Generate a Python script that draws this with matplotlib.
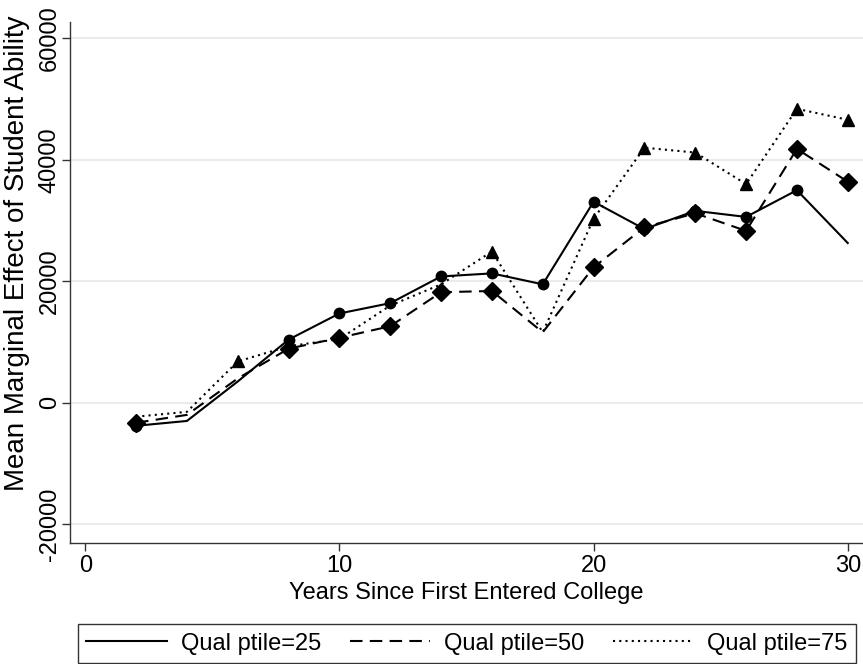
import numpy as np
import matplotlib.pyplot as plt

plt.rcParams['font.family'] = ['Liberation Sans', 'DejaVu Sans']

years = [2, 4, 6, 8, 10, 12, 14, 16, 18, 20, 22, 24, 26, 28, 30]

q25 = [-3800, -3000, 3500, 10400, 14700, 16400, 20800, 21300, 19500,
       33100, 28600, 31600, 30600, 35000, 26300]
q50 = [-3300, -2000, 4000, 8900, 10700, 12600, 18200, 18400, 11600,
       22300, 28900, 31200, 28300, 41800, 36400]
q75 = [-2300, -1500, 6800, 9300, 10500, 16000, 19500, 24900, 11600,
       30300, 42000, 41200, 36000, 48400, 46600]

# which points get a marker
mark25 = [1, 0, 0, 1, 1, 1, 1, 1, 1, 1, 1, 1, 1, 1, 0]
mark50 = [1, 0, 0, 1, 1, 1, 1, 1, 0, 1, 1, 1, 1, 1, 1]
mark75 = [0, 0, 1, 0, 0, 0, 0, 1, 0, 1, 1, 1, 1, 1, 1]

labels = ["Qual ptile=25", "Qual ptile=50", "Qual ptile=75"]
yticks = [-20000, 0, 20000, 40000, 60000]
xticks = [0, 10, 20, 30]

fig = plt.figure(figsize=(8.63, 6.64), dpi=100)
ax = fig.add_axes([70/863, 1-543/664, 1-70/863, (543-22)/664])

x = np.array(years)
series = [(q25, mark25, '-', 'o', 7.5), (q50, mark50, (0, (6, 3.5)), 'D', 9.5),
          (q75, mark75, (0, (1, 2)), '^', 9)]
handles = []
for (y, m, ls, mk, ms), lab in zip(series, labels):
    y = np.array(y)
    m = np.array(m, dtype=bool)
    h, = ax.plot(x, y, color='black', linestyle=ls, linewidth=1.5, label=lab)
    ax.plot(x[m], y[m], linestyle='none', marker=mk, color='black',
            markersize=ms)
    handles.append(h)

ax.set_xlim(-0.6, 30.6)
ax.set_ylim(-23100, 62700)
ax.set_yticks(yticks)
ax.set_xticks(xticks)
ax.set_yticklabels([str(v) for v in yticks], rotation=90, va='center')
ax.tick_params(axis='both', labelsize=17, length=5.5, width=1,
               direction='out', color='#333333')
ax.tick_params(axis='x', pad=3)
ax.tick_params(axis='y', pad=1)
ax.grid(axis='y', color='#ebebeb', linewidth=1.5)
ax.set_axisbelow(True)
for s in ['top', 'right']:
    ax.spines[s].set_visible(False)
for s in ['left', 'bottom']:
    ax.spines[s].set_linewidth(1)
    ax.spines[s].set_color('#333333')

ax.set_xlabel("Years Since First Entered College", fontsize=17, labelpad=4)
ax.set_ylabel("Mean Marginal Effect of Student Ability", fontsize=20)
ax.yaxis.set_label_coords(-0.050, 0.557)

leg = fig.legend(handles=handles, loc='lower left', ncol=3,
                 bbox_to_anchor=(78/863, 1/664, 778/863, 44/664),
                 mode='expand', fontsize=17, handlelength=3.4,
                 handletextpad=0.6, fancybox=False, edgecolor='#333333',
                 framealpha=1, borderpad=0.35, borderaxespad=0)
leg.get_frame().set_linewidth(1)

fig.savefig('out.png', dpi=100)
